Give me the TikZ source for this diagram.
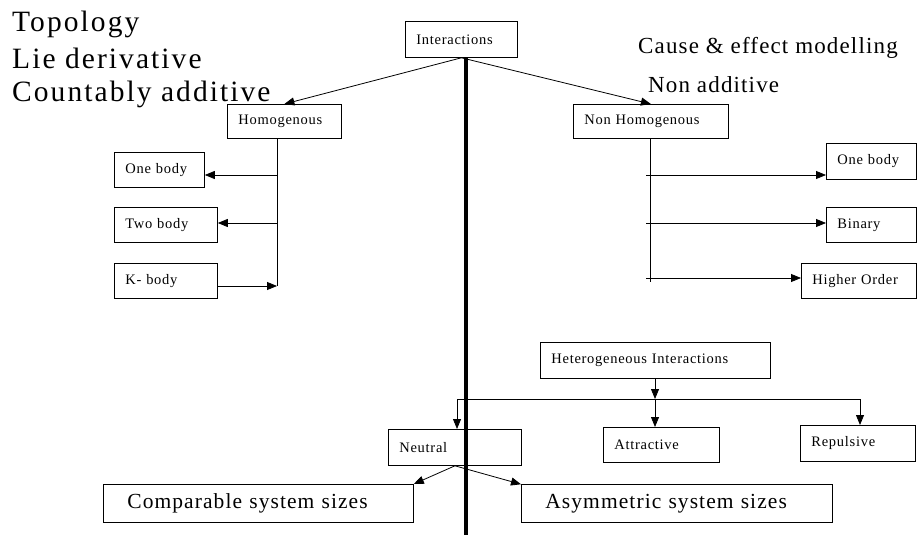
\documentclass[tikz,border=0pt]{standalone}
\usepackage{fontspec}
\setmainfont[LetterSpace=5]{Liberation Serif}
\newfontfamily\widefont[LetterSpace=7]{Liberation Serif}
\usetikzlibrary{arrows.meta}

\begin{document}
\begin{tikzpicture}[x=1pt, y=-1pt,
  box/.style={draw, line width=0.8pt, anchor=north west, inner xsep=11pt, inner ysep=0pt, align=left, font=\fontsize{14.5}{17}\selectfont},
  bigbox/.style={box, inner xsep=24pt, font=\fontsize{21.5}{25}\selectfont},
  link/.style={line width=0.8pt},
  arr/.style={link, -{Triangle[length=10pt,width=8pt]}},
  bigtxt/.style={anchor=base west, inner sep=0pt, font=\widefont\fontsize{29.5}{35}\selectfont},
  midtxt/.style={anchor=base west, inner sep=0pt, font=\fontsize{23}{28}\selectfont}]

\useasboundingbox (0,0) rectangle (917,535);

% Testi liberi
\node[bigtxt] (topo) at (12,32) {Topology};
\node[bigtxt] (lie) at (12,68) {Lie derivative};
\node[bigtxt] (count) at (12,101) {Countably additive};
\node[midtxt] (cause) at (638,53) {Cause \& effect modelling};
\node[midtxt] (nonadd) at (648,92) {Non additive};

% Radice
\node[box, text width=90pt, minimum height=36pt] (inter) at (405,21) {Interactions};
\node[box, text width=92pt, minimum height=34pt] (homog) at (227,104) {Homogenous};
\node[box, text width=133pt, minimum height=34pt] (nonhom) at (573,104) {Non Homogenous};
\draw[arr] (inter.south) -- (homog.north);
\draw[arr] (inter.south) -- (nonhom.north);

% Ramo omogeneo
\node[box, text width=68pt, minimum height=35pt] (oneL) at (114,152) {One body};
\node[box, text width=81pt, minimum height=35pt] (twoL) at (114,207) {Two body};
\node[box, text width=81pt, minimum height=35pt] (kL) at (114,263) {K- body};
\coordinate (hv) at (277,286);
\coordinate (h1) at (277,175);
\coordinate (h2) at (277,223);
\draw[link] (homog.south -| hv) -- (hv);
\draw[arr] (h1) -- (h1 -| oneL.east);
\draw[arr] (h2) -- (h2 -| twoL.east);
\draw[arr] (hv -| kL.east) -- (hv);

% Ramo non omogeneo
\node[box, text width=68pt, minimum height=36pt] (oneR) at (826,143) {One body};
\node[box, text width=68pt, minimum height=35pt] (binR) at (826,207) {Binary};
\node[box, text width=93pt, minimum height=35pt] (highR) at (801,263) {Higher Order};
\coordinate (nv) at (650,282);
\coordinate (n1) at (646,175);
\coordinate (n2) at (646,223);
\coordinate (n3) at (646,278);
\draw[link] (nonhom.south -| nv) -- (nv);
\draw[arr] (n1) -- (n1 -| oneR.west);
\draw[arr] (n2) -- (n2 -| binR.west);
\draw[arr] (n3) -- (n3 -| highR.west);

% Interazioni eterogenee
\node[box, text width=208pt, minimum height=36pt] (hetero) at (540,342) {Heterogeneous Interactions};
\node[box, text width=111pt, minimum height=36pt] (neutral) at (388,429) {Neutral};
\node[box, text width=94pt, minimum height=35pt] (attract) at (603,427) {Attractive};
\node[box, text width=93pt, minimum height=36pt] (repuls) at (800,425) {Repulsive};
\coordinate (hj) at (655,399);
\coordinate (hl) at (457,399);
\coordinate (hr) at (860,399);
\draw[arr] (hetero.south -| hj) -- (hj);
\draw[link] (hl) -- (hr);
\draw[arr] (hl) -- (hl |- neutral.north);
\draw[arr] (hj) -- (hj |- attract.north);
\draw[arr] (hr) -- (hr |- repuls.north);

% Dimensioni dei sistemi
\node[bigbox, text width=262pt, minimum height=38pt] (compar) at (103,484) {Comparable system sizes};
\node[bigbox, text width=263pt, minimum height=38pt] (asym) at (521,484) {Asymmetric system sizes};
\draw[arr] (neutral.south) -- (compar.north east);
\draw[arr] (neutral.south) -- (asym.173);

% Linea di separazione
\coordinate (spine) at (466,535);
\draw[line width=4.5pt] (inter.south -| spine) -- (spine);

\end{tikzpicture}
\end{document}
